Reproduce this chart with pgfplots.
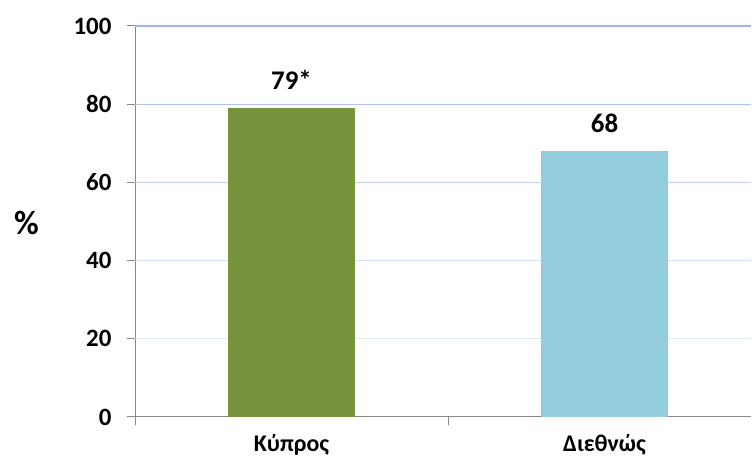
\documentclass[border=0pt]{standalone}
\usepackage{pgfplots}
\pgfplotsset{compat=1.18}
\usepackage{fontspec}
\setmainfont{Carlito}

\definecolor{barGreen}{HTML}{77933C}
\definecolor{barBlue}{HTML}{93CDDD}
\definecolor{axisGray}{HTML}{878787}
\definecolor{gridA}{HTML}{A0B8E7}
\definecolor{gridB}{HTML}{B0C5EC}
\definecolor{gridC}{HTML}{C2D3F1}
\definecolor{gridD}{HTML}{D1DEF4}
\definecolor{gridE}{HTML}{DFE8F8}

\newcommand\catfont{\fontsize{24}{27}\selectfont\bfseries}

\begin{document}
\begin{tikzpicture}[x=1bp,y=1bp]
\useasboundingbox (-135,-51) rectangle (617,417);
\begin{axis}[
  at={(0,0)}, anchor=south west,
  scale only axis,
  width=615.5bp, height=391bp,
  xmin=-0.5, xmax=1.4665,
  ymin=0, ymax=100,
  axis lines*=left,
  axis line style={axisGray, line width=1pt, -},
  /pgf/number format/assume math mode=true,
  tick style={axisGray, line width=1pt},
  major tick length=8bp,
  tick align=outside,
  % category boundaries carry the tick marks
  xtick={-0.5,0.5}, xticklabels={},
  % category names sit under the bar centres, without marks
  extra x ticks={0,1},
  extra x tick labels={{\catfont Κύπρος}, {\catfont Διεθνώς}},
  extra x tick style={major tick length=0pt,
    xticklabel style={yshift=-14bp}},
  ytick={0,20,40,60,80,100},
  y tick label style={font=\fontsize{25}{28}\selectfont\bfseries, xshift=-12bp},
  ylabel={\%},
  ylabel style={rotate=-90, font=\fontsize{34}{36}\selectfont\bfseries, at={(-108.5bp,194.5bp)}, anchor=center},
  clip=false,
  bar width=126bp,
  nodes near coords,
  point meta=explicit symbolic,
  every node near coord/.append style={font=\fontsize{27}{30}\selectfont\bfseries, anchor=base, yshift=19bp, black},
]
% horizontal grid lines, shaded lighter towards the base
\draw[gridA, line width=1.2pt] (axis cs:-0.5,100) -- (axis cs:1.4665,100);
\draw[gridB, line width=1.2pt] (axis cs:-0.5,80) -- (axis cs:1.4665,80);
\draw[gridC, line width=1.2pt] (axis cs:-0.5,60) -- (axis cs:1.4665,60);
\draw[gridD, line width=1.2pt] (axis cs:-0.5,40) -- (axis cs:1.4665,40);
\draw[gridE, line width=1.2pt] (axis cs:-0.5,20) -- (axis cs:1.4665,20);
\addplot[ybar, fill=barGreen, draw=none, bar shift=0pt] coordinates {(0,79) [79*]};
\addplot[ybar, fill=barBlue, draw=none, bar shift=0pt] coordinates {(1,68) [68]};
\end{axis}
\end{tikzpicture}
\end{document}
